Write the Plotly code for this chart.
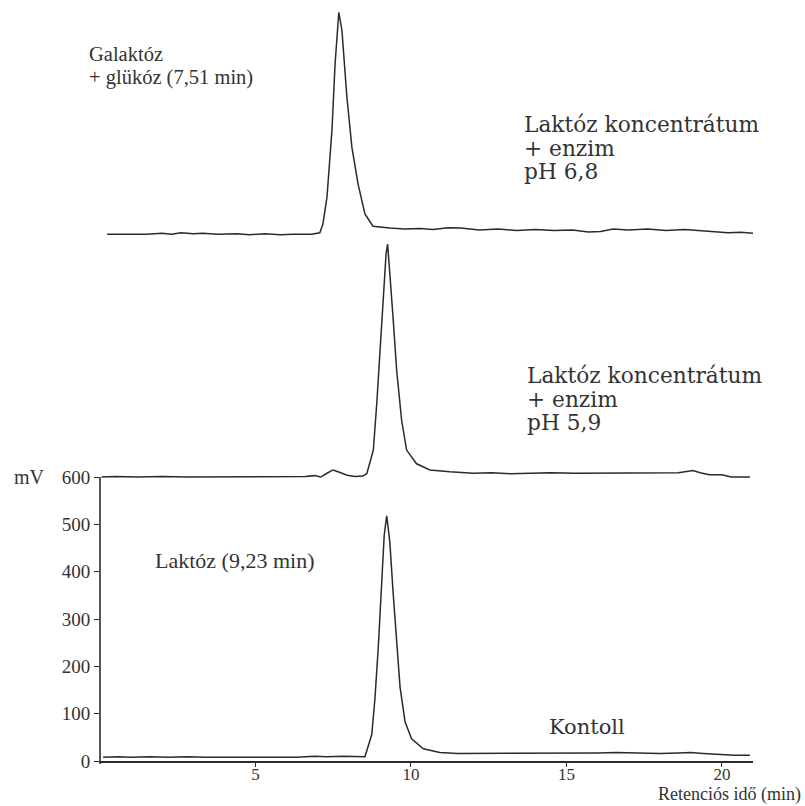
import plotly.graph_objects as go

# ---- data ----
# Top trace: Laktóz koncentrátum + enzim, pH 6,8
top_x = [0.23, 1.5, 2.0, 2.3, 2.6, 3.0, 3.3, 3.8, 4.4, 4.8, 5.3, 5.8, 6.2, 6.8, 7.07,
         7.17, 7.30, 7.46, 7.56, 7.65, 7.68, 7.78, 7.94, 8.10, 8.30, 8.52, 8.78, 9.32,
         9.8, 10.3, 10.7, 11.2, 11.6, 12.2, 12.8, 13.4, 14.0, 14.6, 15.2, 15.7, 16.1,
         16.5, 17.0, 17.6, 18.2, 18.8, 19.3, 19.8, 20.2, 20.6, 21.0]
top_y = [1113, 1113, 1115, 1113, 1116, 1114, 1115, 1113, 1114, 1112, 1114, 1112, 1113, 1113, 1116,
         1135, 1192, 1333, 1473, 1572, 1582, 1544, 1403, 1297, 1219, 1156, 1130, 1126,
         1124, 1125, 1123, 1127, 1126, 1122, 1124, 1121, 1123, 1121, 1122, 1118, 1119,
         1124, 1122, 1124, 1121, 1123, 1121, 1119, 1116, 1117, 1115]

# Middle trace: Laktóz koncentrátum + enzim, pH 5,9
mid_x = [0.05, 0.5, 1.2, 2.0, 2.8, 3.6, 4.4, 5.2, 6.0, 6.6, 6.9, 7.1, 7.3, 7.49, 7.7, 7.95,
         8.2, 8.45, 8.58, 8.79, 8.90, 9.00, 9.11, 9.20, 9.25, 9.32, 9.43, 9.54, 9.70, 9.86,
         10.18, 10.61, 11.25, 12.0, 12.6, 13.2, 13.8, 14.5, 15.3, 16.2, 17.0, 17.8, 18.6,
         19.07, 19.3, 19.6, 20.0, 20.3, 20.9]
mid_y = [600, 601, 600, 601, 600, 600, 601, 600, 600, 601, 603, 600, 608, 615, 610, 604,
         601, 602, 607, 657, 755, 861, 1001, 1072, 1092, 1037, 932, 826, 720, 657,
         628, 615, 611, 608, 609, 607, 608, 609, 608, 608, 609, 608, 609,
         614, 609, 605, 605, 600, 600]

# Bottom trace: Kontroll (laktóz)
bot_x = [0.1, 0.6, 1.0, 1.6, 2.2, 2.8, 3.4, 4.2, 5.0, 5.8, 6.3, 6.9, 7.3, 7.8, 8.2, 8.52,
         8.74, 8.84, 8.95, 9.06, 9.14, 9.22, 9.32, 9.43, 9.54, 9.65, 9.81, 10.02, 10.40,
         10.93, 11.5, 12.3, 13.0, 13.8, 14.5, 15.2, 16.0, 16.6, 17.3, 18.0, 18.6, 19.0,
         19.4, 20.0, 20.4, 20.9]
bot_y = [8, 9, 8, 9, 8, 9, 8, 8, 8, 9, 8, 10, 9, 10, 9, 9,
         56, 130, 241, 374, 477, 518, 463, 352, 243, 156, 83, 47, 26,
         18, 16, 16, 17, 16, 17, 16, 17, 18, 17, 16, 17, 18,
         16, 13, 12, 12]

y_ticks = [0, 100, 200, 300, 400, 500, 600]
x_ticks = [5, 10, 15, 20]

LINE = "#2a2a2a"
TXT = "#333333"
Y_MAX = 1608

fig = go.Figure()
for xs, ys in [(top_x, top_y), (mid_x, mid_y), (bot_x, bot_y)]:
    fig.add_trace(go.Scatter(x=xs, y=ys, mode="lines",
                             line=dict(color=LINE, width=1.5),
                             showlegend=False, hoverinfo="skip"))


def lines(parts, px):
    return "<br>".join(f'<span style="font-size:{px}px">{p}</span>' for p in parts)


# multi-line labels: base font sets line spacing, spans set glyph size
big_labels = [
    (["Laktóz koncentrátum", "+ enzim", "pH 6,8"], 13.57, 1295),
    (["Laktóz koncentrátum", "+ enzim", "pH 5,9"], 13.67, 765),
]
for parts, x, y in big_labels:
    fig.add_annotation(x=x, y=y, xref="x", yref="y", text=lines(parts, 21.7),
                       showarrow=False, xanchor="left", yanchor="middle", align="left",
                       font=dict(family="DejaVu Serif", size=18.2, color=TXT))

fig.add_annotation(x=1.70, y=423, xref="x", yref="y", text="Laktóz (9,23 min)",
                   showarrow=False, xanchor="left", yanchor="middle",
                   font=dict(family="Liberation Serif", size=22, color=TXT))
fig.add_annotation(x=14.37, y=72, xref="x", yref="y", text="Kontoll",
                   showarrow=False, xanchor="left", yanchor="middle",
                   font=dict(family="DejaVu Serif", size=21, color=TXT))

# labels outside the axis range (paper coordinates)
fig.add_annotation(x=-0.020, y=0.9133, xref="paper", yref="paper",
                   text=lines(["Galaktóz", "+ glükóz (7,51 min)"], 20.5),
                   showarrow=False, xanchor="left", yanchor="middle", align="left",
                   font=dict(family="Liberation Serif", size=18, color=TXT))
fig.add_annotation(x=-0.135, y=0.3732, xref="paper", yref="paper", text="mV",
                   showarrow=False, xanchor="left", yanchor="middle",
                   font=dict(family="Liberation Serif", size=20, color=TXT))
fig.add_annotation(x=1.075, y=-0.0591, xref="paper", yref="paper",
                   text="Retenciós idő (min)", showarrow=False,
                   xanchor="right", yanchor="bottom", borderpad=0,
                   font=dict(family="Liberation Serif", size=18, color=TXT))

# y axis line only spans 0..600
fig.add_shape(type="line", xref="paper", yref="paper", x0=0, x1=0, y0=-0.004,
              y1=600 / Y_MAX, line=dict(color=LINE, width=1.6), layer="above")

fig.update_layout(
    width=805, height=806, autosize=False,
    margin=dict(l=100, r=52, t=0, b=45),
    paper_bgcolor="white", plot_bgcolor="white",
    xaxis=dict(range=[0, 21.0], tickvals=x_ticks, ticktext=[str(v) for v in x_ticks],
               showline=True, linecolor=LINE, linewidth=1.6, ticks="outside",
               ticklen=4, tickcolor=LINE, showgrid=False, zeroline=False,
               ticklabelstandoff=-7,
               tickfont=dict(family="Liberation Serif", size=17, color=TXT)),
    yaxis=dict(range=[0, Y_MAX], tickvals=y_ticks, ticktext=[str(v) for v in y_ticks],
               showline=False, ticks="outside", ticklen=5, tickcolor=LINE,
               showgrid=False, zeroline=False,
               tickfont=dict(family="Liberation Serif", size=19, color=TXT)),
)

fig.write_html("out.html", config={"displayModeBar": False})
